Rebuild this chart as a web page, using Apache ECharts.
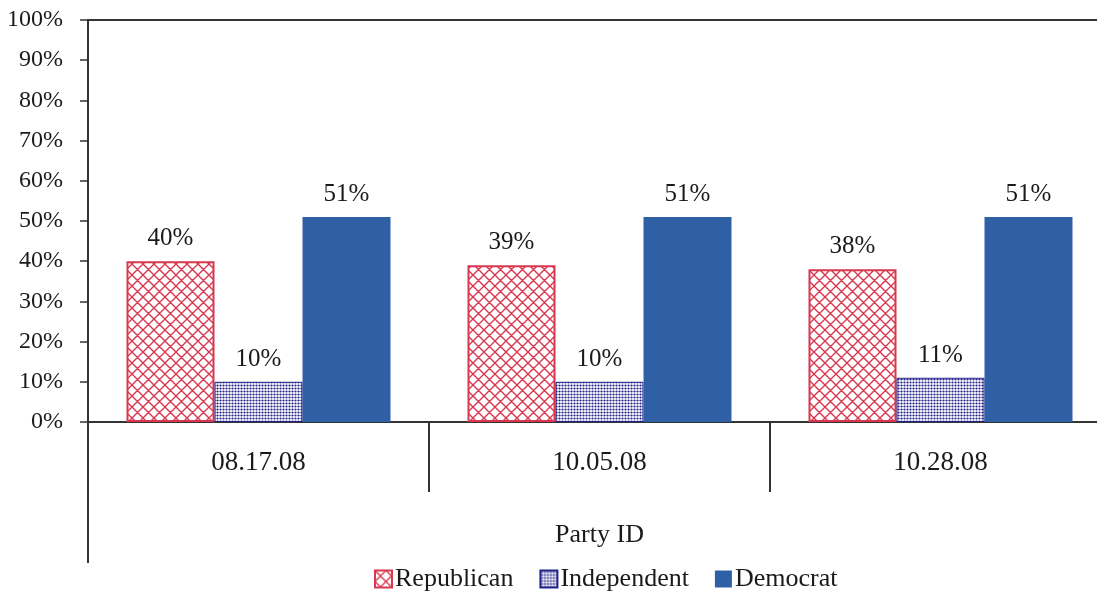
<!DOCTYPE html>
<html>
<head>
<meta charset="utf-8">
<script src="https://cdn.jsdelivr.net/npm/echarts@6/dist/echarts.min.js"></script>
<style>
  html, body { margin: 0; padding: 0; background: #fff; }
  #chart { width: 1097px; height: 594px; }
</style>
</head>
<body>
<div id="chart"></div>
<script>
// Party identification by survey date (percent of respondents)
const categories = ['08.17.08', '10.05.08', '10.28.08'];
const republican = [40, 39, 38];
const independent = [10, 10, 11];
const democrat = [51, 51, 51];
const seriesNames = ['Republican', 'Independent', 'Democrat'];
const yMin = 0, yMax = 100, yStep = 10;

const SERIF = '"Liberation Serif", "DejaVu Serif", serif';
const TEXT = '#1a1a1a';
const AXIS_COLOR = '#333';
const RED = '#d8384f';
const NAVY = '#22228a';
const BLUE = '#2f60a6';

const GRID = { left: 88, top: 20, right: -14, bottom: 172 };
const CHART_H = 594;

// diagonal lattice fill
function crossHatch(color, size) {
  const c = document.createElement('canvas');
  c.width = c.height = size;
  const g = c.getContext('2d');
  g.fillStyle = '#fff';
  g.fillRect(0, 0, size, size);
  g.strokeStyle = color;
  g.lineWidth = 1.4;
  g.beginPath();
  for (const o of [-size, 0, size]) {
    g.moveTo(o - 1, -1); g.lineTo(o + size + 1, size + 1);
    g.moveTo(o + size + 1, -1); g.lineTo(o - 1, size + 1);
  }
  g.stroke();
  return c;
}

// fine dot screen fill
function dotScreen(color, size, r) {
  const c = document.createElement('canvas');
  c.width = c.height = size;
  const g = c.getContext('2d');
  g.fillStyle = '#fff';
  g.fillRect(0, 0, size, size);
  g.fillStyle = color;
  g.beginPath();
  g.arc(size / 2, size / 2, r, 0, Math.PI * 2);
  g.fill();
  return c;
}

const hatchFill = { image: crossHatch(RED, 11), repeat: 'repeat' };
const dotFill = { image: dotScreen(NAVY, 3, 1.1), repeat: 'repeat' };

const chart = echarts.init(document.getElementById('chart'), null, { renderer: 'canvas' });

const labelStyle = {
  show: true,
  position: 'top',
  distance: 10,
  formatter: '{c}%',
  fontFamily: SERIF,
  fontSize: 25,
  color: TEXT
};

function barSeries(name, data, fill, border, borderWidth) {
  return {
    name: name,
    type: 'bar',
    data: data,
    barWidth: 88,
    barGap: '0%',
    itemStyle: { color: fill, borderColor: border, borderWidth: borderWidth },
    label: labelStyle,
    emphasis: { disabled: true }
  };
}

chart.setOption({
  animation: false,
  backgroundColor: '#fff',
  grid: {
    left: GRID.left, top: GRID.top, right: GRID.right, bottom: GRID.bottom,
    outerBoundsMode: 'none',
    containLabel: false,
    show: true, borderColor: AXIS_COLOR, borderWidth: 2, backgroundColor: 'transparent'
  },
  legend: {
    data: seriesNames,
    left: 369,
    top: 561,
    itemWidth: 17,
    itemHeight: 17,
    itemGap: 26,
    icon: 'rect',
    textStyle: { fontFamily: SERIF, fontSize: 26, color: TEXT, padding: [0, 0, 0, -2] }
  },
  xAxis: {
    type: 'category',
    data: categories,
    name: 'Party ID',
    nameLocation: 'middle',
    nameGap: 100,
    nameTextStyle: { fontFamily: SERIF, fontSize: 26, color: TEXT },
    axisLine: { show: true, lineStyle: { color: AXIS_COLOR, width: 2 } },
    axisTick: { show: true, alignWithLabel: false, interval: 0, length: 70,
                lineStyle: { color: AXIS_COLOR, width: 2 } },
    axisLabel: { fontFamily: SERIF, fontSize: 27, color: TEXT, margin: 27 }
  },
  yAxis: {
    type: 'value',
    min: yMin, max: yMax, interval: yStep,
    axisLine: { show: true, lineStyle: { color: AXIS_COLOR, width: 2 } },
    axisTick: { show: true, length: 8, lineStyle: { color: AXIS_COLOR, width: 1.5 } },
    splitLine: { show: false },
    axisLabel: { formatter: '{value}%', fontFamily: SERIF, fontSize: 24, color: TEXT, margin: 25 }
  },
  series: [
    barSeries(seriesNames[0], republican, hatchFill, RED, 2),
    barSeries(seriesNames[1], independent, dotFill, NAVY, 1),
    barSeries(seriesNames[2], democrat, BLUE, BLUE, 0)
  ],
  graphic: [{
    // value axis continues below the category band
    type: 'line',
    shape: { x1: GRID.left, y1: CHART_H - GRID.bottom, x2: GRID.left, y2: 563 },
    style: { stroke: AXIS_COLOR, lineWidth: 2 },
    silent: true
  }]
});
</script>
</body>
</html>
